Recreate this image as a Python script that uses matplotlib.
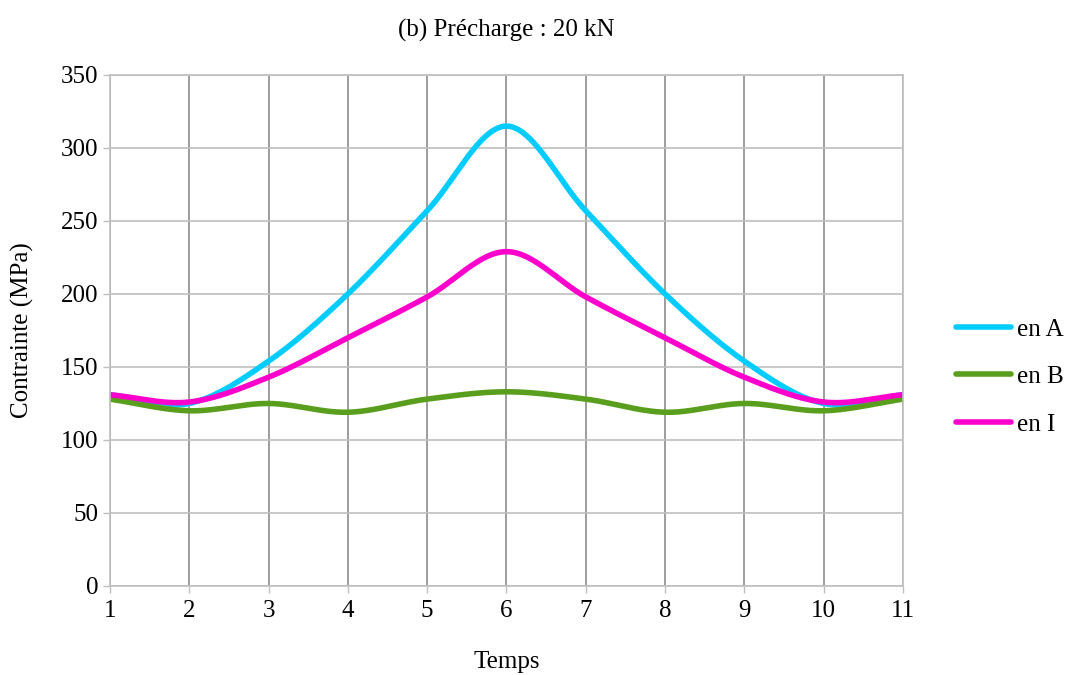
"""Précharge 20 kN: stress at points A, B, I over time (smoothed lines)."""
import matplotlib
matplotlib.use("Agg")
import matplotlib.pyplot as plt
import numpy as np

temps = [1, 2, 3, 4, 5, 6, 7, 8, 9, 10, 11]
en_A = [131, 125, 154, 200, 257, 315, 257, 200, 154, 125, 131]
en_B = [128, 120, 125, 119, 128, 133, 128, 119, 125, 120, 128]
en_I = [131, 126, 143, 170, 198, 229, 198, 170, 143, 126, 131]

SERIES = [("en A", en_A, "#00CCFF"), ("en B", en_B, "#5A9E1E"), ("en I", en_I, "#FF00CC")]

plt.rcParams["font.family"] = ["Liberation Serif", "DejaVu Serif"]
FS = 18


def smooth(x, y, n=30):
    # Catmull-Rom style curve through the points, like Excel's smoothed lines
    x = np.asarray(x, float)
    y = np.asarray(y, float)
    px = np.concatenate([[2 * x[0] - x[1]], x, [2 * x[-1] - x[-2]]])
    py = np.concatenate([[2 * y[0] - y[1]], y, [2 * y[-1] - y[-2]]])
    xs, ys = [], []
    t = np.linspace(0, 1, n)
    for i in range(1, len(px) - 2):
        for p, arr in ((px[i - 1:i + 3], xs), (py[i - 1:i + 3], ys)):
            a, b, c, d = p
            arr.append(0.5 * (2 * b + (-a + c) * t + (2 * a - 5 * b + 4 * c - d) * t ** 2
                              + (-a + 3 * b - 3 * c + d) * t ** 3))
    return np.concatenate(xs), np.concatenate(ys)


fig = plt.figure(figsize=(10.77, 6.75), dpi=100)
ax = fig.add_axes([0.1021, 0.1319, 0.7363, 0.757])

for label, vals, color in SERIES:
    sx, sy = smooth(temps, vals)
    ax.plot(sx, sy, color=color, linewidth=4, label=label, solid_capstyle="round")

ax.set_xlim(1, 11)
ax.set_ylim(0, 350)
ax.set_xticks(temps)
ax.set_yticks(np.arange(0, 351, 50))
ax.tick_params(labelsize=FS, length=5, color="#BFBFBF", width=1)
ax.tick_params(axis="x", pad=5)

ax.yaxis.grid(True, color="#BFBFBF", linewidth=1.2)
ax.xaxis.grid(True, color="#8C8C8C", linewidth=1.2)
ax.set_axisbelow(True)
for s in ax.spines.values():
    s.set_color("#BFBFBF")
    s.set_linewidth(1.2)

ax.set_xlabel("Temps", fontsize=FS, labelpad=21)
ax.set_ylabel("Contrainte (MPa)", fontsize=FS, labelpad=19)
ax.set_title("(b) Précharge : 20 kN", fontsize=FS, pad=28)

ax.legend(loc="center left", bbox_to_anchor=(1.067, 0.409), frameon=False, fontsize=FS,
          handlelength=2.2, handletextpad=0.25, labelspacing=1.0, borderaxespad=0,
          borderpad=0)

fig.savefig("out.png", dpi=100)
